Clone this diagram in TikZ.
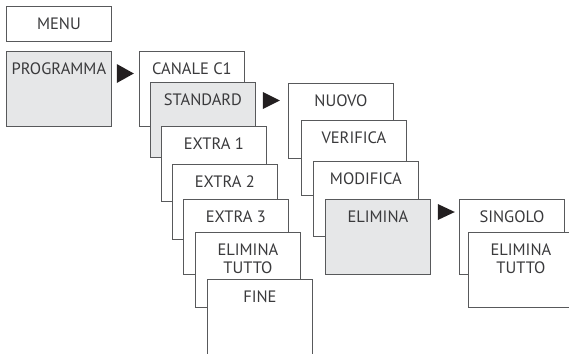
\documentclass[tikz,border=0pt]{standalone}
\usepackage{fontspec}
\setmainfont{PT Sans}
\definecolor{boxgrey}{HTML}{E6E7E8}
\definecolor{linegrey}{HTML}{58595B}
\definecolor{textgrey}{HTML}{3A3A3C}
\definecolor{tipgrey}{HTML}{231F20}
\begin{document}
\begin{tikzpicture}[x=1pt, y=-1pt]
  \path[use as bounding box, clip] (0, 0) rectangle (569, 353);  % Bildrand.
  \tikzstyle{box}=[draw=linegrey, line width=0.8pt, fill=white, anchor=north west, minimum width=105pt, inner xsep=0pt, inner ysep=0pt, text height=23pt, text depth=52pt, align=center, text=textgrey, font=\fontsize{16.5}{18}\selectfont]
  \tikzstyle{small}=[text depth=12pt]
  \tikzstyle{twoline}=[text height=41pt, text depth=34pt]
  \tikzstyle{grey}=[fill=boxgrey]
  \tikzstyle{tip}=[fill=tipgrey]

  \node[box, small] (1) at (6, 6)    {MENU};
  \node[box, grey]  (2) at (6, 51)   {PROGRAMMA};

  \node[box]        (3) at (139, 51) {CANALE C1};
  \node[box, grey]  (4) at (150, 82) {STANDARD};
  \node[box]        (5) at (161, 126) {EXTRA 1};
  \node[box]        (6) at (172, 164) {EXTRA 2};
  \node[box]        (7) at (183, 199) {EXTRA 3};
  \node[box, twoline] (8) at (195, 232) {ELIMINA\\TUTTO};
  \node[box]        (9) at (207, 279) {FINE};

  \node[box]        (10) at (288, 83)  {NUOVO};
  \node[box]        (11) at (301, 120) {VERIFICA};
  \node[box]        (12) at (313, 161) {MODIFICA};
  \node[box, grey]  (13) at (325, 199) {ELIMINA};

  \node[box]        (14) at (459, 199) {SINGOLO};
  \node[box, twoline] (15) at (468, 232) {ELIMINA\\TUTTO};

  \fill[tip, shift={(2.north east)}]  (5, 13) -- ++(0, 19) -- ++(17, -9.5) -- cycle;
  \fill[tip, shift={(4.north east)}]  (7, 10) -- ++(0, 17) -- ++(17, -8.5) -- cycle;
  \fill[tip, shift={(13.north east)}] (7, 5)  -- ++(0, 16) -- ++(17, -8)   -- cycle;
\end{tikzpicture}
\end{document}
